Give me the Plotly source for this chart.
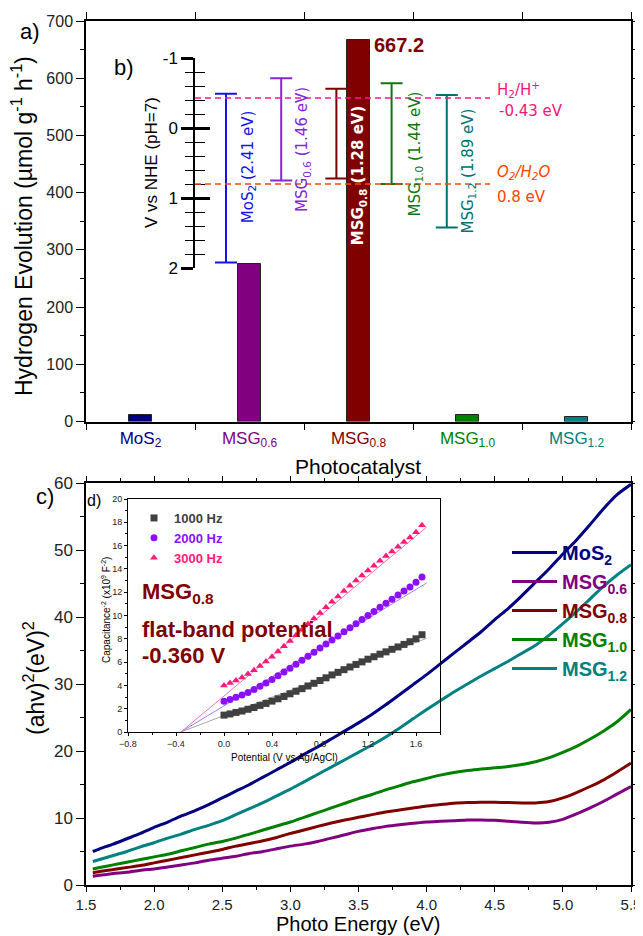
import plotly.graph_objects as go

W, H = 643, 936
OFF = 8  # page body margin of the browser
def px(x):
    return (x - OFF) / W
def py(y):
    return 1 - (y - OFF) / H

FONT = "Liberation Sans, Arial, sans-serif"
BAND_FONT = "DejaVu Sans, sans-serif"

# ---------------- panel a: hydrogen evolution ----------------
catalysts = ["MoS2", "MSG0.6", "MSG0.8", "MSG1.0", "MSG1.2"]
catalyst_html = ["MoS<sub>2</sub>", "MSG<sub>0.6</sub>", "MSG<sub>0.8</sub>",
                 "MSG<sub>1.0</sub>", "MSG<sub>1.2</sub>"]
h2_rate = [11, 276, 667.2, 12, 8]
cat_colors = ["#000080", "#800080", "#800000", "#008000", "#008080"]

# ---------------- panel b: band positions (V vs NHE) ----------------
cb_edge = [-0.49, -0.71, -0.56, -0.64, -0.47]
vb_edge = [1.92, 0.75, 0.72, 0.80, 1.42]
band_gap = ["2.41", "1.46", "1.28", "1.44", "1.89"]
band_colors = ["#1414E6", "#8526DB", "#7A0000", "#107510", "#007272"]
band_text_colors = ["#1414E6", "#8526DB", "#FFFFFF", "#107510", "#007272"]
h2_potential = -0.43
o2_potential = 0.8
nhe_ticks = [-1, 0, 1, 2]

# ---------------- panel c: Tauc curves ----------------
energy = [1.55, 1.6, 1.7, 1.8, 1.9, 2.0, 2.1, 2.2, 2.3, 2.4, 2.5, 2.6, 2.7, 2.8, 2.9,
          3.0, 3.1, 3.2, 3.3, 3.4, 3.5, 3.6, 3.7, 3.8, 3.9, 4.0, 4.1, 4.2, 4.3, 4.4,
          4.5, 4.6, 4.7, 4.8, 4.9, 5.0, 5.1, 5.2, 5.3, 5.4, 5.5]
tauc_mos2 = [5.0, 5.4, 6.1, 6.9, 7.7, 8.6, 9.4, 10.3, 11.1, 12.0, 13.0, 14.0, 15.0, 16.1, 17.2,
             18.3, 19.5, 20.6, 21.8, 23.0, 24.2, 25.5, 26.9, 28.4, 29.9, 31.4, 33.0, 34.6, 36.2, 37.8,
             39.6, 41.3, 43.2, 45.2, 47.2, 49.4, 51.5, 53.8, 56.2, 58.3, 59.8]
tauc_msg06 = [1.3, 1.45, 1.7, 1.9, 2.2, 2.4, 2.7, 3.0, 3.3, 3.7, 4.0, 4.3, 4.7, 5.0, 5.4,
              5.8, 6.1, 6.5, 7.0, 7.5, 8.0, 8.4, 8.75, 9.0, 9.2, 9.4, 9.5, 9.6, 9.7, 9.7,
              9.65, 9.5, 9.35, 9.25, 9.35, 9.8, 10.6, 11.5, 12.5, 13.6, 14.7]
tauc_msg08 = [1.8, 2.0, 2.3, 2.6, 2.9, 3.3, 3.7, 4.1, 4.5, 4.9, 5.3, 5.8, 6.2, 6.6, 7.1,
              7.7, 8.2, 8.75, 9.25, 9.7, 10.1, 10.5, 10.9, 11.2, 11.5, 11.8, 12.0, 12.2, 12.3, 12.35,
              12.35, 12.3, 12.25, 12.25, 12.45, 13.0, 13.8, 14.7, 15.7, 16.9, 18.2]
tauc_msg10 = [2.4, 2.6, 3.0, 3.4, 3.8, 4.2, 4.6, 5.1, 5.6, 6.1, 6.5, 7.0, 7.6, 8.2, 8.8,
              9.4, 10.1, 10.8, 11.5, 12.2, 12.9, 13.5, 14.2, 14.8, 15.4, 15.9, 16.4, 16.8, 17.1, 17.3,
              17.5, 17.7, 18.0, 18.4, 19.0, 19.8, 20.7, 21.8, 23.0, 24.4, 26.2]
tauc_msg12 = [3.5, 3.8, 4.4, 5.0, 5.7, 6.3, 7.0, 7.6, 8.3, 8.9, 9.6, 10.5, 11.4, 12.3, 13.3,
              14.3, 15.4, 16.5, 17.6, 18.7, 19.8, 20.9, 22.1, 23.4, 24.8, 26.2, 27.5, 28.8, 30.0, 31.2,
              32.3, 33.4, 34.6, 35.8, 37.3, 39.0, 40.8, 42.7, 44.6, 46.3, 47.8]
tauc_series = [tauc_mos2, tauc_msg06, tauc_msg08, tauc_msg10, tauc_msg12]

# ---------------- panel d: Mott-Schottky ----------------
potential = [0.00, 0.05, 0.10, 0.15, 0.20, 0.25, 0.30, 0.35, 0.40, 0.45, 0.50, 0.55,
             0.60, 0.65, 0.70, 0.75, 0.80, 0.85, 0.90, 0.95, 1.00, 1.05, 1.10, 1.15,
             1.20, 1.25, 1.30, 1.35, 1.40, 1.45, 1.50, 1.55, 1.60, 1.65]
cap_1000 = [1.45, 1.55, 1.68, 1.80, 1.95, 2.10, 2.28, 2.45, 2.65, 2.85, 3.05, 3.28,
            3.50, 3.72, 3.95, 4.18, 4.42, 4.65, 4.90, 5.12, 5.35, 5.58, 5.80, 6.02,
            6.25, 6.46, 6.68, 6.88, 7.10, 7.30, 7.52, 7.75, 8.00, 8.35]
cap_2000 = [2.65, 2.80, 2.98, 3.18, 3.40, 3.65, 3.92, 4.20, 4.50, 4.82, 5.15, 5.48,
            5.82, 6.15, 6.50, 6.85, 7.20, 7.55, 7.90, 8.25, 8.60, 8.95, 9.30, 9.65,
            10.00, 10.35, 10.70, 11.05, 11.40, 11.75, 12.10, 12.45, 12.85, 13.30]
cap_3000 = [4.00, 4.20, 4.42, 4.68, 4.98, 5.30, 5.66, 6.05, 6.46, 6.90, 7.35, 7.82,
            8.30, 8.78, 9.26, 9.74, 10.22, 10.70, 11.18, 11.64, 12.10, 12.55, 13.00, 13.44,
            13.86, 14.28, 14.70, 15.10, 15.50, 15.90, 16.30, 16.70, 17.15, 17.75]
fit_potential = [-0.36, 1.69]
fit_1000 = [0, 8.05]
fit_2000 = [0, 12.8]
fit_3000 = [0, 17.6]
freq_labels = ["1000 Hz", "2000 Hz", "3000 Hz"]
freq_colors = ["#404040", "#8B10FF", "#FF1A7A"]
fit_colors = ["#A8A8A8", "#A47CFF", "#FF70B0"]
freq_symbols = ["square", "circle", "triangle-up"]

fig = go.Figure()

# panel a bars
fig.add_trace(go.Bar(
    x=catalysts, y=h2_rate, xaxis="x", yaxis="y", width=0.21,
    marker=dict(color=cat_colors, line=dict(color="#222222", width=1)),
    showlegend=False, hoverinfo="skip"))

# panel b band edges (error-bar style)
for i, name in enumerate(catalysts):
    mid = (cb_edge[i] + vb_edge[i]) / 2
    half = (vb_edge[i] - cb_edge[i]) / 2
    fig.add_trace(go.Scatter(
        x=[name], y=[mid], xaxis="x3", yaxis="y3", mode="markers",
        marker=dict(size=1, color="rgba(0,0,0,0)"),
        error_y=dict(type="data", array=[half], symmetric=True,
                     color=band_colors[i], thickness=2, width=11),
        showlegend=False, hoverinfo="skip"))
# dummy trace so the overlay axis is drawn
fig.add_trace(go.Scatter(x=[catalysts[0]], y=[0], xaxis="x3", yaxis="y4", mode="markers",
                         marker=dict(size=1, color="rgba(0,0,0,0)"),
                         showlegend=False, hoverinfo="skip"))

# panel c curves
for i in range(5):
    fig.add_trace(go.Scatter(
        x=energy, y=tauc_series[i], xaxis="x2", yaxis="y2", mode="lines",
        line=dict(color=cat_colors[i], width=3, shape="spline", smoothing=0.6),
        name=f"<span style='color:{cat_colors[i]}'>{catalyst_html[i]}</span>",
        legend="legend", hoverinfo="skip"))

# panel d
fits = [fit_1000, fit_2000, fit_3000]
caps = [cap_1000, cap_2000, cap_3000]
for i in range(3):
    fig.add_trace(go.Scatter(
        x=fit_potential, y=fits[i], xaxis="x5", yaxis="y5", mode="lines",
        line=dict(color=fit_colors[i], width=1), showlegend=False, hoverinfo="skip"))
for i in range(3):
    fig.add_trace(go.Scatter(
        x=potential, y=caps[i], xaxis="x5", yaxis="y5", mode="markers",
        marker=dict(symbol=freq_symbols[i], size=7, color=freq_colors[i]),
        name=f"<span style='color:{freq_colors[i]}'>{freq_labels[i]}</span>",
        legend="legend2", hoverinfo="skip"))

axis_common = dict(showline=True, linecolor="black", linewidth=1.5, ticks="outside",
                   tickcolor="black", showgrid=False, zeroline=False, automargin=False,
                   tickfont=dict(family=FONT, size=15, color="#222"))

# band-edge label layout (position along the NHE axis, pixel offsets)
band_label_y = [0.56, 0.31, 0.67, 0.37, 0.61]
band_label_shift = [22, 22, 23, 24, 22]

annotations = []
for i in range(5):
    weight = "<b>%s</b>" if i == 2 else "%s"
    annotations.append(dict(
        x=catalysts[i], y=band_label_y[i], xref="x3", yref="y3", xshift=band_label_shift[i],
        xanchor="center", yanchor="middle",
        text=weight % f"{catalyst_html[i]} ({band_gap[i]} eV)",
        textangle=-90, showarrow=False,
        font=dict(family=BAND_FONT, size=15, color=band_text_colors[i])))


def label(x, y, text, size, color="black", angle=0, xa="center", ya="middle", bold=False):
    return dict(x=px(x), y=py(y), xref="paper", yref="paper", xanchor=xa, yanchor=ya,
                text=f"<b>{text}</b>" if bold else text, textangle=angle, showarrow=False,
                font=dict(family=FONT, size=size, color=color))


annotations += [
    label(30, 31, "a)", 22),
    label(124, 68, "b)", 22),
    label(45, 496, "c)", 22),
    label(94, 500, "d)", 16),
    dict(x=catalysts[2], y=h2_rate[2], xref="x", yref="y", xanchor="left", yanchor="middle",
         xshift=13, yshift=-5, text=f"<b>{h2_rate[2]}</b>", showarrow=False,
         font=dict(family=FONT, size=20, color="#800000")),
    label(152, 163, "V vs NHE (pH=7)", 17, angle=-90),
    # redox levels
    dict(x=px(495), y=h2_potential, xref="paper", yref="y3", xanchor="left", yanchor="bottom",
         yshift=-4, text="H<sub>2</sub>/H<sup>+</sup>", showarrow=False,
         font=dict(family=BAND_FONT, size=15, color="#F5147A")),
    dict(x=px(497), y=h2_potential, xref="paper", yref="y3", xanchor="left", yanchor="top",
         yshift=-2, text=f"{h2_potential} eV", showarrow=False,
         font=dict(family=BAND_FONT, size=15, color="#F5147A")),
    dict(x=px(495), y=o2_potential, xref="paper", yref="y3", xanchor="left", yanchor="bottom",
         yshift=0, text="<i>O<sub>2</sub>/H<sub>2</sub>O</i>", showarrow=False,
         font=dict(family=BAND_FONT, size=15, color="#FF4500")),
    dict(x=px(495), y=o2_potential, xref="paper", yref="y3", xanchor="left", yanchor="top",
         yshift=-2, text=f"{o2_potential} eV", showarrow=False,
         font=dict(family=BAND_FONT, size=15, color="#FF4500")),
    # axis titles
    label(22, 226, "Hydrogen Evolution (µmol g<sup>-1</sup> h<sup>-1</sup>)", 23, angle=-90),
    label(358, 466, "Photocatalyst", 21),
    label(34, 678, "(ahv)<sup>2</sup>(eV)<sup>2</sup>", 23, angle=-90),
    label(358, 923.5, "Photo Energy (eV)", 20),
    label(284, 757, "Potential (V vs Ag/AgCl)", 10),
    label(106, 610, "Capacitance<sup>-2</sup> (x10<sup>9</sup> F<sup>-2</sup>)", 10, angle=-90),
    # flat band text
    label(140, 593, "MSG<sub>0.8</sub>", 22, color="#800000", xa="left", bold=True),
    label(140, 629, "flat-band potential", 22, color="#800000", xa="left", bold=True),
    label(140, 655, "-0.360 V", 22, color="#800000", xa="left", bold=True),
]

shapes = [
    dict(type="line", xref="x3 domain", yref="y3", x0=0, x1=1, y0=h2_potential, y1=h2_potential,
         line=dict(color="#FF1493", width=1.5, dash="6px,4px")),
    dict(type="line", xref="x3 domain", yref="y3", x0=0, x1=1, y0=o2_potential, y1=o2_potential,
         line=dict(color="#FF4500", width=1.5, dash="6px,4px")),
]

fig.update_layout(
    template="none",
    width=W, height=H, margin=dict(l=0, r=0, t=0, b=0, autoexpand=False),
    paper_bgcolor="white", plot_bgcolor="rgba(0,0,0,0)",
    font=dict(family=FONT, color="black"),
    bargap=0,
    xaxis=dict(axis_common, domain=[px(86), px(631)], anchor="y", type="category",
               categoryorder="array", categoryarray=catalysts, range=[-0.5, 4.5],
               tickson="boundaries", ticklen=7, mirror="ticks",
               tickvals=catalysts,
               ticktext=[f"<span style='color:{c}'>{t}</span>" for c, t in zip(cat_colors, catalyst_html)],
               tickfont=dict(family=FONT, size=17)),
    yaxis=dict(axis_common, domain=[py(421.5), py(21)], anchor="x", range=[0, 700],
               dtick=100, ticklen=8, mirror="ticks",
               tickfont=dict(family=FONT, size=16, color="#222"),
               minor=dict(ticks="outside", ticklen=4, dtick=50, tickcolor="black")),
    xaxis3=dict(domain=[px(195), px(490)], anchor="y3", type="category",
                categoryorder="array", categoryarray=catalysts, automargin=False,
                range=[-0.5616, 4.783], visible=False),
    yaxis3=dict(domain=[py(268), py(58)], anchor="x3", range=[2, -1], automargin=False,
                tickvals=nhe_ticks, ticktext=[str(v) for v in nhe_ticks],
                showline=True, linecolor="black", linewidth=1.5,
                ticks="outside", ticklen=12, tickwidth=3, tickcolor="black",
                showgrid=False, zeroline=False,
                tickfont=dict(family=FONT, size=17, color="black"),
                minor=dict(ticks="outside", ticklen=8, tickwidth=1.2, dtick=0.2,
                           tickcolor="black", showgrid=False)),
    yaxis4=dict(overlaying="y3", anchor="x3", side="left", range=[2, -1], automargin=False,
                tickvals=nhe_ticks, showticklabels=False, showline=False,
                ticks="inside", ticklen=15, tickwidth=3, tickcolor="black",
                showgrid=False, zeroline=False,
                minor=dict(ticks="inside", ticklen=10, tickwidth=1.2, dtick=0.2,
                           tickcolor="black", showgrid=False)),
    xaxis2=dict(axis_common, domain=[px(86), px(631)], anchor="y2", range=[1.5, 5.5],
                dtick=0.5, tickformat=".1f", ticklen=5, mirror="ticks",
                minor=dict(ticks="outside", ticklen=3, dtick=0.25, tickcolor="black")),
    yaxis2=dict(axis_common, domain=[py(885), py(483)], anchor="x2", range=[0, 60],
                dtick=10, ticklen=8, mirror="ticks",
                tickfont=dict(family=FONT, size=17, color="#222"),
                minor=dict(ticks="outside", ticklen=4, dtick=5, tickcolor="black")),
    xaxis5=dict(showline=True, linecolor="black", linewidth=1, mirror=True, automargin=False,
                domain=[px(128), px(440)], anchor="y5", range=[-0.8, 1.8],
                tickvals=[-0.8, -0.4, 0.0, 0.4, 0.8, 1.2, 1.6], tickformat=".1f",
                ticks="outside", ticklen=3, tickcolor="black", showgrid=False, zeroline=False,
                tickfont=dict(family=FONT, size=9, color="#222"),
                minor=dict(ticks="outside", ticklen=2, dtick=0.2, tickcolor="black")),
    yaxis5=dict(showline=True, linecolor="black", linewidth=1, mirror=True, automargin=False,
                domain=[py(732), py(499)], anchor="x5", range=[0, 20], dtick=2,
                ticks="outside", ticklen=3, tickcolor="black", showgrid=False, zeroline=False,
                tickfont=dict(family=FONT, size=9, color="#222"),
                minor=dict(ticks="outside", ticklen=2, dtick=1, tickcolor="black")),
    legend=dict(x=px(507), y=py(533), xanchor="left", yanchor="top",
                bgcolor="rgba(0,0,0,0)", itemwidth=45, tracegroupgap=0,
                font=dict(family=FONT, size=20, weight="bold")),
    legend2=dict(x=px(134), y=py(503), xanchor="left", yanchor="top",
                 bgcolor="rgba(0,0,0,0)", itemwidth=30, tracegroupgap=0,
                 font=dict(family=FONT, size=13, weight="bold")),
    annotations=annotations,
    shapes=shapes,
)

fig.write_html("out.html")
